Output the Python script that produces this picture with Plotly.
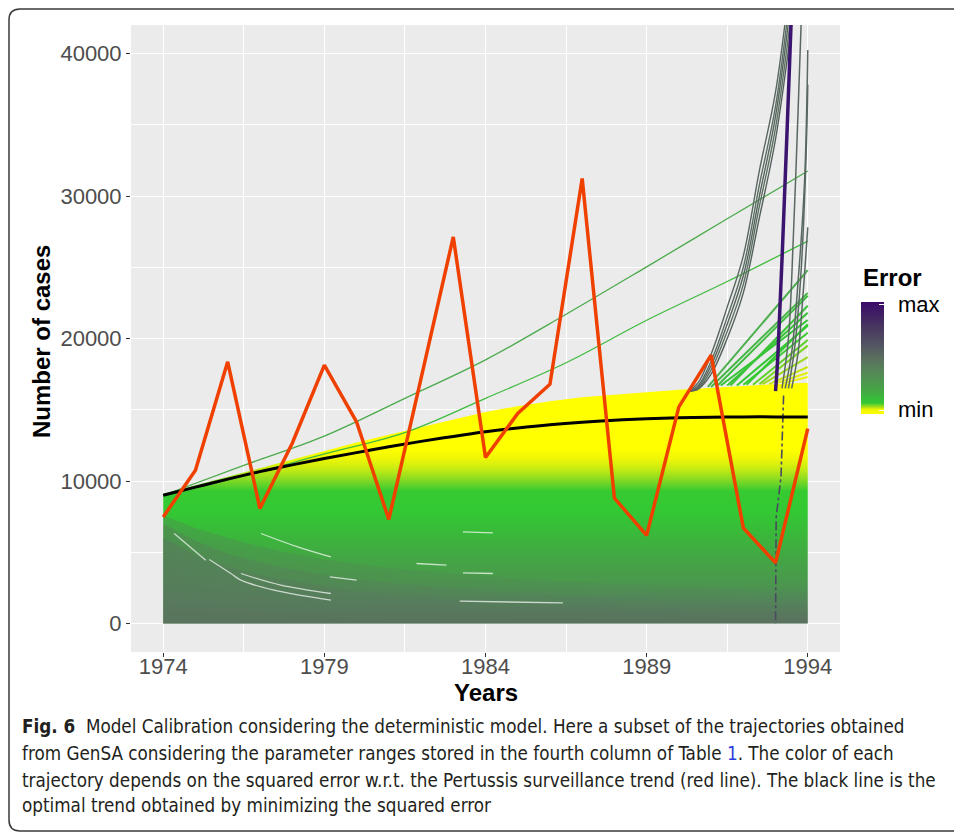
import plotly.graph_objects as go

# ---------------- data ----------------
years = [1974, 1975, 1976, 1977, 1978, 1979, 1980, 1981, 1982, 1983, 1984,
         1985, 1986, 1987, 1988, 1989, 1990, 1991, 1992, 1993, 1994]
observed_cases = [7480, 10760, 18360, 8070, 12630, 18130, 14150, 7300, 17200, 27130,
                  11650, 14740, 16790, 31230, 8800, 6180, 15200, 18830, 6710, 4250, 13680]
optimal_trend = [9000, 9570, 10130, 10660, 11130, 11580, 11990, 12400, 12780, 13130,
                 13450, 13720, 13950, 14130, 14270, 14370, 14440, 14480, 14500, 14500, 14490]
# envelope of the dense trajectory mass
mass_top = [9100, 9700, 10300, 10950, 11550, 12150, 12700, 13250, 13800, 14330, 14850,
            15250, 15600, 15880, 16080, 16230, 16400, 16550, 16700, 16800, 16900]
mass_bottom = [0, 0, 0, 0, 0, 0, 0, 0, 0, 0, 0, 0, 0, 0, 0, 0, 0, 0, 0, 0, 0]
# upper limits of the high-error (greyish) trajectories at the bottom
grey_outer_top = [7600, 6700, 6000, 5400, 4900, 4500, 4200, 3900, 3700, 3500, 3300,
                  3150, 3000, 2900, 2800, 2700, 2600, 2500, 2400, 2300, 2200]
grey_mid_top = [7000, 5800, 4900, 4300, 3800, 3400, 3100, 2850, 2650, 2450, 2300,
                2150, 2050, 1950, 1850, 1750, 1650, 1600, 1550, 1500, 1450]
grey_inner_top = [6000, 4800, 4000, 3400, 3000, 2600, 2300, 2100, 1900, 1750, 1600,
                  1500, 1400, 1300, 1250, 1200, 1100, 1050, 1000, 950, 900]

# two isolated growing trajectories
grid_years = [1974, 1976.5, 1979, 1981.5, 1984, 1986.5, 1989, 1991.5, 1994]
traj_a = [9000, 11100, 13150, 15800, 18500, 21700, 25030, 28400, 31750]
traj_b = [9000, 10350, 11900, 13400, 15800, 18300, 21280, 24000, 26830]

# exploding trajectories after 1990
late_years = [1990.3, 1990.6, 1991, 1991.5, 1992, 1992.5, 1993, 1993.5, 1994]
burst_1 = [16300, 16900, 18900, 22200, 25800, 31800, 37300, 46000, 56000]
burst_2 = [16300, 16700, 18400, 21500, 25000, 30800, 36300, 45000, 55000]
burst_3 = [16300, 16600, 18100, 21000, 24400, 30000, 35600, 44000, 54000]
burst_4 = [16300, 16500, 17800, 20500, 23800, 29300, 34800, 43000, 53000]
burst_5 = [16300, 16450, 17500, 20000, 23200, 28500, 34000, 42000, 52000]

steep_1_x = [1993.3, 1993.5, 1993.7, 1993.9, 1994]
steep_1_y = [16500, 19000, 24000, 31000, 40250]
steep_2_x = [1993.4, 1993.6, 1993.8, 1993.95, 1994]
steep_2_y = [16500, 19500, 25000, 33000, 37800]
steep_3_x = [1993.2, 1993.4, 1993.55, 1993.7, 1993.8]
steep_3_y = [16500, 20000, 27000, 36000, 42500]
steep_4_x = [1993.5, 1993.7, 1993.85, 1994]
steep_4_y = [16500, 19000, 23000, 27800]

max_error_x = [1993.0, 1993.07, 1993.27, 1993.48, 1993.6]
max_error_y = [16300, 18700, 29500, 42000, 50000]
drop_x = [1993.25, 1993.17, 1993.02, 1993.0]
drop_y = [16000, 10300, 7480, 0]

# green fan of trajectories ending in 1994
fan_start_year = [1990.9, 1991.0, 1991.2, 1991.3, 1991.5, 1991.6, 1991.8, 1992.0, 1992.1,
                  1992.3, 1992.5, 1992.6, 1992.8, 1993.0, 1993.2]
fan_start_val = [16600, 16600, 16700, 16700, 16700, 16700, 16700, 16750, 16750,
                 16750, 16800, 16800, 16800, 16850, 16850]
fan_end_val = [24800, 23200, 23000, 21300, 21800, 22300, 20900, 20400, 21000,
               19900, 19500, 18700, 18000, 17600, 17300]
fan_colors = ['#4caf4c', '#44b644', '#40bc40', '#36c436', '#38c238', '#3cc43a', '#33c833', '#3acb2e',
              '#35c933', '#5ccf26', '#7ad422', '#9cd91e', '#c6e614', '#e0ee0a', '#eef505']

# gaps (white streaks) between trajectories
streak_1_x = [1974.34, 1975.32]
streak_1_y = [6316, 4442]
streak_2_x = [1975.43, 1976.1, 1976.41, 1977.44, 1979.2]
streak_2_y = [4491, 3509, 3040, 2337, 1635]
streak_3_x = [1977.03, 1978.17, 1979.2]
streak_3_y = [6316, 5376, 4674]
streak_4_x = [1976.41, 1977.65, 1979.2]
streak_4_y = [3509, 2688, 2105]
streak_5_x = [1979.17, 1980.0]
streak_5_y = [3270, 3039]
streak_6_x = [1981.86, 1982.79]
streak_6_y = [4211, 4092]
streak_7_x = [1983.3, 1984.23]
streak_7_y = [3551, 3509]
streak_8_x = [1983.2, 1986.4]
streak_8_y = [1565, 1446]
streak_9_x = [1983.3, 1984.23]
streak_9_y = [6429, 6358]

x_ticks = [1974, 1979, 1984, 1989, 1994]
y_ticks = [0, 10000, 20000, 30000, 40000]

error_scale = [[0.0, '#ffff00'], [0.04, '#eef500'], [0.07, '#8fd820'], [0.10, '#33c833'],
               [0.20, '#43a843'], [0.35, '#548c56'], [0.50, '#5a6f5f'], [0.65, '#514e62'],
               [0.80, '#46325f'], [1.0, '#3a0a6a']]

# ---------------- layout helpers ----------------
W, H = 954, 834
L, R, T, B = 131, 114, 25, 182
PW, PH = W - L - R, H - T - B


def px(X):
    return (X - L) / PW


def py(Y):
    return (H - B - Y) / PH


fig = go.Figure()

# dense mass with vertical colour gradient
mv = 17000.0
fig.add_trace(go.Scatter(
    x=years + years[::-1], y=mass_top + mass_bottom[::-1],
    mode='lines', line=dict(width=0), fill='toself',
    fillgradient=dict(type='vertical', start=0, stop=mv,
                      colorscale=[[0.0, '#5a6f5e'], [1500 / mv, '#52865a'],
                                  [3000 / mv, '#4a994c'], [5000 / mv, '#41aa42'],
                                  [6800 / mv, '#37be37'], [8000 / mv, '#33c933'],
                                  [9300 / mv, '#36ca31'], [10000 / mv, '#7fd824'],
                                  [10800 / mv, '#c4ea14'], [11600 / mv, '#f0f705'],
                                  [12300 / mv, '#ffff00'], [1.0, '#ffff00']]),
    hoverinfo='skip', showlegend=False))

# greyish high-error trajectories at the bottom (three soft layers)
for gt, a0, a1 in [(grey_outer_top, 0.3, 0.08), (grey_mid_top, 0.35, 0.12), (grey_inner_top, 0.4, 0.15)]:
    fig.add_trace(go.Scatter(
        x=years + years[::-1], y=gt + mass_bottom[::-1],
        mode='lines', line=dict(width=0), fill='toself',
        fillgradient=dict(type='horizontal', start=1974, stop=1994,
                          colorscale=[[0.0, f'rgba(90,116,94,{a0})'], [0.3, f'rgba(90,116,94,{(a0 + a1) / 2})'],
                                      [1.0, f'rgba(90,116,94,{a1})']]),
        hoverinfo='skip', showlegend=False))

for sx, sy in [(streak_1_x, streak_1_y), (streak_2_x, streak_2_y), (streak_3_x, streak_3_y),
               (streak_4_x, streak_4_y), (streak_5_x, streak_5_y), (streak_6_x, streak_6_y),
               (streak_7_x, streak_7_y), (streak_8_x, streak_8_y), (streak_9_x, streak_9_y)]:
    fig.add_trace(go.Scatter(x=sx, y=sy, mode='lines', line=dict(color='rgba(255,255,255,0.7)', width=1.3, shape='spline'),
                             hoverinfo='skip', showlegend=False))

fig.add_trace(go.Scatter(x=grid_years, y=traj_a, mode='lines',
                         line=dict(color='#4caa4c', width=1.3, shape='spline'), hoverinfo='skip', showlegend=False))
fig.add_trace(go.Scatter(x=grid_years, y=traj_b, mode='lines',
                         line=dict(color='#40bb40', width=1.3, shape='spline'), hoverinfo='skip', showlegend=False))

for sy0, v0, v1, c in zip(fan_start_year, fan_start_val, fan_end_val, fan_colors):
    fig.add_trace(go.Scatter(x=[sy0, 1994], y=[v0, v1], mode='lines',
                             line=dict(color=c, width=2), hoverinfo='skip', showlegend=False))

for by, c in zip([burst_1, burst_2, burst_3, burst_4, burst_5],
                 ['#586662', '#5a6e62', '#56635f', '#5b7160', '#55605e']):
    fig.add_trace(go.Scatter(x=late_years, y=by, mode='lines',
                             line=dict(color=c, width=1.4, shape='spline'), hoverinfo='skip', showlegend=False))

for sx, sy in [(steep_1_x, steep_1_y), (steep_2_x, steep_2_y), (steep_3_x, steep_3_y), (steep_4_x, steep_4_y)]:
    fig.add_trace(go.Scatter(x=sx, y=sy, mode='lines', line=dict(color='#5a6862', width=1.5, shape='spline'),
                             hoverinfo='skip', showlegend=False))

fig.add_trace(go.Scatter(x=drop_x, y=drop_y, mode='lines', line=dict(color='#4a4a60', width=1.6, dash='dashdot'),
                         hoverinfo='skip', showlegend=False))
fig.add_trace(go.Scatter(x=max_error_x, y=max_error_y, mode='lines',
                         line=dict(color='#3b1470', width=3.5, shape='spline'), hoverinfo='skip', showlegend=False))

fig.add_trace(go.Scatter(x=years, y=optimal_trend, mode='lines',
                         line=dict(color='black', width=3, shape='spline'), hoverinfo='skip', showlegend=False))
fig.add_trace(go.Scatter(x=years, y=observed_cases, mode='lines',
                         line=dict(color='#f04000', width=3.5), hoverinfo='skip', showlegend=False))

# colour bar legend
fig.add_trace(go.Scatter(
    x=[None], y=[None], mode='markers', hoverinfo='skip', showlegend=False,
    marker=dict(color=[0.5], cmin=0, cmax=1, colorscale=error_scale, showscale=True,
                colorbar=dict(thickness=23, thicknessmode='pixels', len=112, lenmode='pixels',
                              x=px(861), xanchor='left', y=py(357.5), yanchor='middle',
                              outlinewidth=0, tickvals=[0.03, 0.97], ticktext=['', ''],
                              ticks='inside', ticklen=5, tickcolor='white', tickwidth=1.2,
                              showticklabels=False, xpad=0, ypad=0))))

TICK_FONT = dict(family='Liberation Sans, Arial, sans-serif', size=22, color='#4d4d4d')
fig.update_xaxes(range=[1973, 1995], tickvals=x_ticks, ticktext=[str(v) for v in x_ticks],
                 showgrid=True, gridcolor='white', gridwidth=1.1, zeroline=False,
                 ticks='outside', ticklen=4, tickcolor='#333333', tickwidth=1, tickfont=TICK_FONT,
                 ticklabelstandoff=-9,
                 minor=dict(dtick=2.5, tick0=1974, showgrid=True, gridcolor='white', gridwidth=0.5),
                 showline=False)
fig.update_yaxes(range=[-2000, 42000], tickvals=y_ticks, ticktext=[str(v) for v in y_ticks],
                 showgrid=True, gridcolor='white', gridwidth=1.1, zeroline=False,
                 ticks='outside', ticklen=4, tickcolor='#333333', tickwidth=1, tickfont=TICK_FONT,
                 minor=dict(dtick=5000, tick0=0, showgrid=True, gridcolor='white', gridwidth=0.5),
                 showline=False)

ann = []
ann.append(dict(text='<b>Number of cases</b>', x=px(42), y=py(342), xref='paper', yref='paper',
                textangle=-90, showarrow=False, font=dict(family='Liberation Sans, Arial', size=24, color='black'),
                xanchor='center', yanchor='middle'))
ann.append(dict(text='<b>Years</b>', x=px(486), y=py(692), xref='paper', yref='paper', showarrow=False,
                font=dict(family='Liberation Sans, Arial', size=24, color='black'), xanchor='center', yanchor='middle'))
ann.append(dict(text='<b>Error</b>', x=px(861), y=py(277), xref='paper', yref='paper', showarrow=False,
                font=dict(family='Liberation Sans, Arial', size=24, color='black'), xanchor='left', yanchor='middle'))
ann.append(dict(text='max', x=px(896), y=py(304), xref='paper', yref='paper', showarrow=False,
                font=dict(family='Liberation Sans, Arial', size=22, color='black'), xanchor='left', yanchor='middle'))
ann.append(dict(text='min', x=px(896), y=py(409), xref='paper', yref='paper', showarrow=False,
                font=dict(family='Liberation Sans, Arial', size=22, color='black'), xanchor='left', yanchor='middle'))

caption_lines = [
    '<b>Fig. 6</b>  Model Calibration considering the deterministic model. Here a subset of the trajectories obtained',
    "from GenSA considering the parameter ranges stored in the fourth column of Table <span style='color:#2b3be0'>1</span>. The color of each",
    'trajectory depends on the squared error w.r.t. the Pertussis surveillance trend (red line). The black line is the',
    'optimal trend obtained by minimizing the squared error',
]
caption_y = [726, 753, 780, 806]
for txt, cy in zip(caption_lines, caption_y):
    ann.append(dict(text=txt, x=px(20), y=py(cy), xref='paper', yref='paper', showarrow=False,
                    font=dict(family='Liberation Sans Narrow, DejaVu Sans Condensed, Arial Narrow, sans-serif',
                              size=18.7, color='#231f20'),
                    xanchor='left', yanchor='middle', align='left'))

# rounded frame around the figure
x0, x1 = px(9), px(970)
yt, yb = py(9), py(831)
rx, ry = 11 / PW, 11 / PH
frame = (f'M {x1},{yt} L {x0 + rx},{yt} Q {x0},{yt} {x0},{yt - ry} '
         f'L {x0},{yb + ry} Q {x0},{yb} {x0 + rx},{yb} L {x1},{yb}')

fig.update_layout(
    width=W, height=H, margin=dict(l=L, r=R, t=T, b=B, pad=0),
    paper_bgcolor='white', plot_bgcolor='#ebebeb',
    annotations=ann,
    shapes=[dict(type='path', path=frame, xref='paper', yref='paper',
                 line=dict(color='#3a3a3a', width=1.5), layer='above')],
    showlegend=False,
)

fig.write_html('out.html', config={'displayModeBar': False},
               post_script="document.body.style.margin='0px';")
